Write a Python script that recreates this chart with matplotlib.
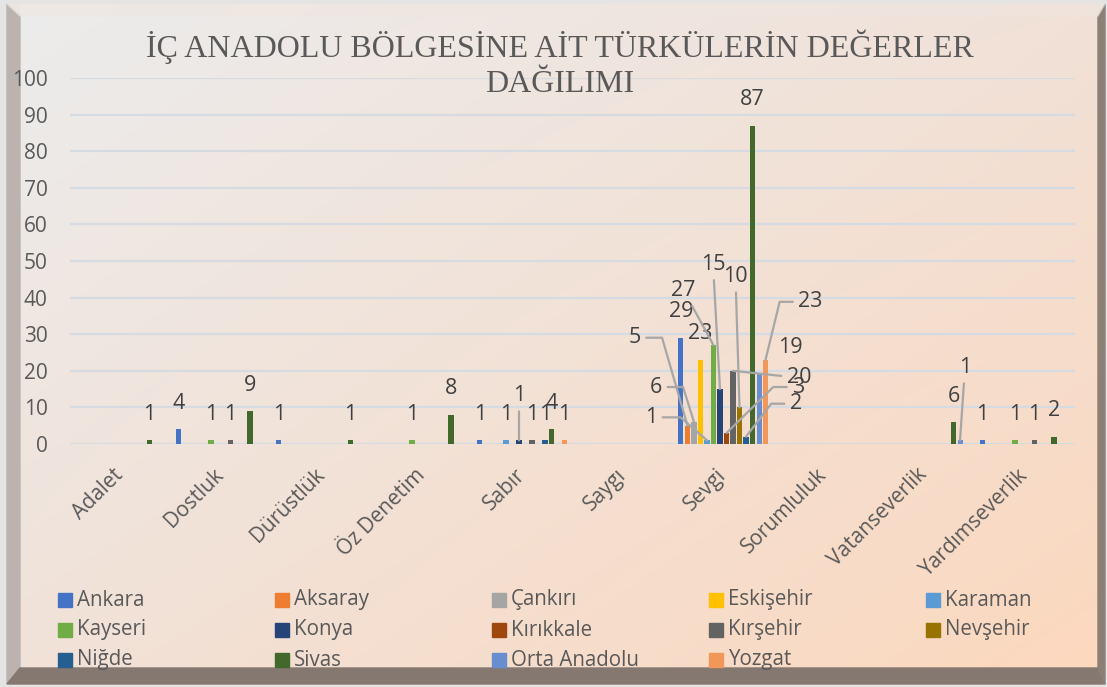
import matplotlib
matplotlib.use("Agg")
import matplotlib.pyplot as plt
import numpy as np
from matplotlib.patches import Rectangle, Polygon

nan = np.nan

categories = ['Adalet', 'Dostluk', 'Dürüstlük', 'Öz Denetim', 'Sabır', 'Saygı',
              'Sevgi', 'Sorumluluk', 'Vatanseverlik', 'Yardımseverlik']

# one list per province, same order as categories (nan = no bar)
ankara       = [nan, 4, 1, nan, 1, nan, 29, nan, nan, 1]
aksaray      = [nan, nan, nan, nan, nan, nan, 5, nan, nan, nan]
cankiri      = [nan, nan, nan, nan, nan, nan, 6, nan, nan, nan]
eskisehir    = [nan, nan, nan, nan, nan, nan, 23, nan, nan, nan]
karaman      = [nan, nan, nan, nan, 1, nan, 1, nan, nan, nan]
kayseri      = [nan, 1, nan, 1, nan, nan, 27, nan, nan, 1]
konya        = [nan, nan, nan, nan, 1, nan, 15, nan, nan, nan]
kirikkale    = [nan, nan, nan, nan, nan, nan, 3, nan, nan, nan]
kirsehir     = [nan, 1, nan, nan, 1, nan, 20, nan, nan, 1]
nevsehir     = [nan, nan, nan, nan, nan, nan, 10, nan, nan, nan]
nigde        = [nan, nan, nan, nan, 1, nan, 2, nan, nan, nan]
sivas        = [1, 9, 1, 8, 4, nan, 87, nan, 6, 2]
orta_anadolu = [nan, nan, nan, nan, nan, nan, 19, nan, 1, nan]
yozgat       = [nan, nan, nan, nan, 1, nan, 23, nan, nan, nan]

series_names = ['Ankara', 'Aksaray', 'Çankırı', 'Eskişehir', 'Karaman', 'Kayseri', 'Konya',
                'Kırıkkale', 'Kırşehir', 'Nevşehir', 'Niğde', 'Sivas', 'Orta Anadolu', 'Yozgat']
series_values = [ankara, aksaray, cankiri, eskisehir, karaman, kayseri, konya,
                 kirikkale, kirsehir, nevsehir, nigde, sivas, orta_anadolu, yozgat]
colors = ['#4472C4', '#ED7D31', '#A5A5A5', '#FFC000', '#5B9BD5', '#70AD47', '#264478',
          '#9E480E', '#636363', '#997300', '#255E91', '#43682B', '#698ED0', '#F1975A']

# data labels that Excel had dragged away from their bar: (series, category) -> (dx, dy) px,
# plus the style of the leader line (None = no line, 'line' = straight, number = elbow angle)
moved = {
    ('Aksaray', 'Sevgi'): (-53, 88, -73.9),
    ('Çankırı', 'Sevgi'): (-38, 35, -72.7),
    ('Karaman', 'Sevgi'): (-56, 23, -41),
    ('Kayseri', 'Sevgi'): (-30, 55, 'line'),
    ('Konya', 'Sevgi'): (-7, 125, 'line'),
    ('Nevşehir', 'Sevgi'): (-4, 131, 'line'),
    ('Kırşehir', 'Sevgi'): (66, -7, 'line'),
    ('Kırıkkale', 'Sevgi'): (72, 46, 44.6),
    ('Niğde', 'Sevgi'): (50, 33, 52.6),
    ('Yozgat', 'Sevgi'): (45, 58, 76.3),
    ('Orta Anadolu', 'Sevgi'): (31, 27, None),
    ('Konya', 'Sabır'): (0, 45, 'line'),
    ('Orta Anadolu', 'Vatanseverlik'): (5, 73, 'line'),
}

W, H = 1107, 687
fig = plt.figure(figsize=(W / 100, H / 100), dpi=100)
fig.patch.set_facecolor('#e4e4e4')
FONT = 'Open Sans'
PX = 72 / 100  # points per pixel

# background panel with the picture frame
bg = fig.add_axes([0, 0, 1, 1], zorder=-5)
bg.set_xlim(0, W)
bg.set_ylim(H, 0)
bg.axis('off')
tl = np.array([236, 236, 236]); tr = np.array([241, 225, 215])
bl = np.array([241, 226, 216]); br = np.array([252, 216, 190])
u = np.linspace(0, 1, 200)[None, :, None]
v = np.linspace(0, 1, 120)[:, None, None]
grad = (tl * (1 - u) * (1 - v) + tr * u * (1 - v) + bl * (1 - u) * v + br * u * v) / 255
bg.imshow(grad, extent=[20, 1098, 668, 4], aspect='auto', interpolation='bilinear')
bg.add_patch(Polygon([[7, 4], [20, 16], [20, 668], [7, 684]], closed=True, color='#bab3af'))
bg.add_patch(Polygon([[7, 684], [20, 668], [1098, 668], [1105, 684]], closed=True, color='#857870'))
bg.add_patch(Polygon([[1098, 16], [1105, 4], [1105, 684], [1098, 668]], closed=True, color='#8c7f76'))
bg.add_patch(Polygon([[7, 4], [1105, 4], [1098, 16], [20, 16]], closed=True, color='#efe6e0', alpha=0.6))

# main plot area
left, right, top, bottom = 70, 1075, 78, 444
ax = fig.add_axes([left / W, 1 - bottom / H, (right - left) / W, (bottom - top) / H])
ax.set_facecolor('none')
ax.set_xlim(-0.5, len(categories) - 0.5)
ax.set_ylim(0, 100)
ax.set_yticks(np.arange(0, 101, 10))
ax.yaxis.grid(True, color='#d5dbe3', linewidth=1.6)
ax.set_axisbelow(True)
for sp in ax.spines.values():
    sp.set_visible(False)
ax.tick_params(axis='both', length=0, colors='#595959')
ax.tick_params(axis='y', pad=16, labelsize=15)
ax.tick_params(axis='x', pad=20, labelsize=15)
for lab in ax.get_yticklabels():
    lab.set_fontfamily(FONT)

x = np.arange(len(categories))
step = 0.0647
width = 0.05
n = len(series_names)
for i, (name, vals, col) in enumerate(zip(series_names, series_values, colors)):
    vals = np.array(vals, dtype=float)
    xs = x + (i - (n - 1) / 2) * step
    ax.bar(xs, vals, width=width, color=col, zorder=3)
    for xi, val, cat in zip(xs, vals, categories):
        if np.isnan(val):
            continue
        dx, dy, lead = moved.get((name, cat), (0, 26, None))
        arrow = None
        if lead == 'line':
            arrow = dict(arrowstyle='-', color='#a6a6a6', lw=1.6, shrinkA=2, shrinkB=0)
        elif lead is not None:
            arrow = dict(arrowstyle='-', color='#a6a6a6', lw=1.6, shrinkA=2, shrinkB=0,
                         connectionstyle='angle,angleA=0,angleB=%s,rad=0' % lead)
        ax.annotate('%d' % val, xy=(xi, val), xytext=(dx * PX, dy * PX),
                    textcoords='offset points', ha='center', va='center',
                    fontsize=15.5, color='#404040', family=FONT,
                    arrowprops=arrow, annotation_clip=False, zorder=4)

ax.set_xticks(x)
ax.set_xticklabels(categories, rotation=45, ha='right', va='center',
                   rotation_mode='anchor', family=FONT)

# title
fig.text(560 / W, 1 - 57 / H, 'İÇ ANADOLU BÖLGESİNE AİT TÜRKÜLERİN DEĞERLER',
         ha='center', va='baseline', fontsize=23, color='#595959', family='Liberation Serif')
fig.text(560 / W, 1 - 92 / H, 'DAĞILIMI',
         ha='center', va='baseline', fontsize=23, color='#595959', family='Liberation Serif')

# legend, 5 columns like Excel
for i, (name, col) in enumerate(zip(series_names, colors)):
    cx = 58 + (i % 5) * 217
    cy = 600 + (i // 5) * 30
    fig.add_artist(Rectangle((cx / W, 1 - (cy + 7) / H), 14 / W, 14 / H,
                             transform=fig.transFigure, color=col))
    fig.text((cx + 19) / W, 1 - cy / H, name, ha='left', va='center',
             fontsize=14.8, color='#595959', family=FONT)

fig.savefig('out.png', dpi=100)
